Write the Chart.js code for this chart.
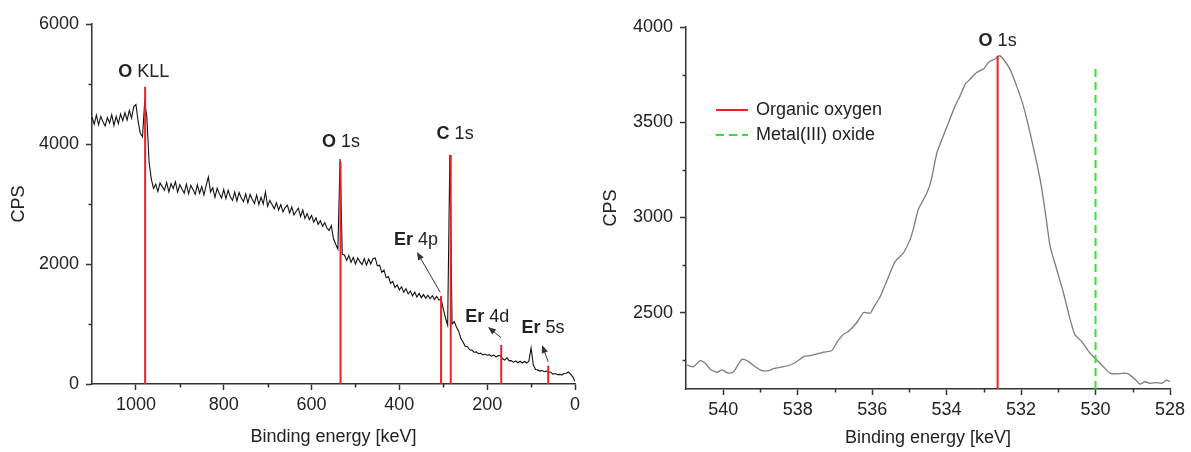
<!DOCTYPE html>
<html>
<head>
<meta charset="utf-8">
<title>XPS spectra</title>
<script src="https://cdn.jsdelivr.net/npm/chart.js@4.4.1/dist/chart.umd.min.js"></script>
<style>
  html, body { margin: 0; padding: 0; background: #fff; }
  #wrap { position: relative; width: 1191px; height: 452px; overflow: hidden; }
  #survey { position: absolute; left: 0; top: 0; }
  #detail { position: absolute; left: 590px; top: 0; }
</style>
</head>
<body>
<div id="wrap">
  <canvas id="survey" width="590" height="452"></canvas>
  <canvas id="detail" width="601" height="452"></canvas>
</div>
<script>
const FONT = '"Liberation Sans", Arial, Helvetica, sans-serif';
const INK = '#222';
const AXIS = '#333';
const RED = '#ee2027';
const GREEN = '#35e035';

// ---- survey spectrum (left panel) ----
const surveyEnergy = [
  1100, 1095, 1090, 1085, 1080, 1075, 1070, 1065, 1060, 1055, 1050, 1045, 1040, 1035, 1030, 1025, 1020, 1015, 1010, 1005,
  1000, 995, 990, 985, 980, 975, 970, 965, 960, 955, 950, 945, 940, 935, 930, 925, 920, 915, 910, 905,
  900, 895, 890, 885, 880, 875, 870, 865, 860, 855, 850, 845, 840, 835, 830, 825, 820, 815, 810, 805,
  800, 795, 790, 785, 780, 775, 770, 765, 760, 755, 750, 745, 740, 735, 730, 725, 720, 715, 710, 705,
  700, 695, 690, 685, 680, 675, 670, 665, 660, 655, 650, 645, 640, 635, 630, 625, 620, 615, 610, 605,
  600, 595, 590, 585, 580, 575, 570, 565, 560, 555, 550, 545, 540, 535, 530, 525, 520, 515, 510, 505,
  500, 495, 490, 485, 480, 475, 470, 465, 460, 455, 450, 445, 440, 435, 430, 425, 420, 415, 410, 405,
  400, 395, 390, 385, 380, 375, 370, 365, 360, 355, 350, 345, 340, 335, 330, 325, 320, 315, 310, 305,
  300, 295, 290, 285, 280, 275, 270, 265, 260, 255, 250, 245, 240, 235, 230, 225, 220, 215, 210, 205,
  200, 195, 190, 185, 180, 175, 170, 165, 160, 155, 150, 145, 140, 135, 130, 125, 120, 115, 110, 105,
  100, 95, 90, 85, 80, 75, 70, 65, 60, 55, 50, 45, 40, 35, 30, 25, 20, 15, 10, 5, 0
];
const surveyCounts = [
  4450, 4330, 4480, 4320, 4460, 4370, 4300, 4440, 4350, 4490, 4310, 4460, 4340, 4500, 4390, 4520, 4400, 4560, 4430, 4620,
  4660, 4380, 4180, 4120, 4700, 4450, 3700, 3420, 3260, 3330, 3210, 3350, 3290, 3230, 3360, 3200, 3340, 3260, 3370, 3200,
  3320, 3250, 3180, 3330, 3170, 3310, 3240, 3160, 3320, 3180, 3290, 3150, 3310, 3450, 3200, 3270, 3110, 3260, 3170, 3100,
  3240, 3090, 3230, 3120, 3060, 3200, 3050, 3190, 3100, 3040, 3170, 3020, 3160, 3080, 3010, 3150, 2990, 3110, 3000, 3200,
  2960, 3060, 2990, 2920, 3020, 2900, 2990, 2870, 2940, 2980, 2850, 2950, 2820, 2880, 2930, 2790, 2900, 2760, 2840, 2740,
  2810, 2700, 2770, 2660, 2720, 2630, 2690, 2600, 2560, 2640, 2420, 2330, 2250, 3750, 2160, 2150, 2060, 2140, 2030, 2110,
  2000, 2100, 2040, 1990, 2090, 1980, 2080, 2000, 2090, 2100, 1970, 1980, 1860, 1900, 1770, 1790, 1680, 1710, 1610, 1650,
  1570, 1620, 1530, 1590, 1500, 1550, 1470, 1530, 1450, 1510, 1440, 1490, 1430, 1480, 1420, 1470, 1410, 1460, 1400, 1420,
  1250, 1100, 980, 3820, 1000, 1040, 950, 880, 760, 700, 630, 620, 570, 565, 530, 535, 505, 515, 485, 500,
  480, 490, 460, 485, 450, 475, 470, 420, 400, 440, 385, 390, 360, 385, 355, 380, 350, 375, 350, 380,
  600, 320, 240, 235, 215, 225, 205, 215, 195, 195, 165, 175, 155, 160, 150, 175, 180, 200, 165, 120, 40
];

// peak markers (red lines) and their tags
const peakElement = ['O', 'O', 'Er', 'C', 'Er', 'Er'];
const peakLevel = ['KLL', '1s', '4p', '1s', '4d', '5s'];
const peakEnergy = [979, 534, 305, 283, 168, 61];
const peakTop = [4955, 3705, 1467, 3817, 650, 305];
const tagEnergy = [982, 533, 362, 273, 200, 73];
const tagCps = [5200, 4033, 2400, 4167, 1117, 933];

// arrows for the Er tags: tail (on the peak) -> head (towards the tag)
const arrowTailE = [307, 168, 61];
const arrowTailY = [1530, 770, 370];
const arrowHeadE = [360, 198, 75];
const arrowHeadY = [2200, 950, 650];

const surveyTicksX = [1000, 800, 600, 400, 200, 0];
const surveyTicksY = [0, 2000, 4000, 6000];
const surveyMinorX = [900, 700, 500, 300, 100];
const surveyMinorY = [1000, 3000, 5000];

// ---- O 1s detail (right panel) ----
const oxygenEnergy = [
  540.97, 540.80, 540.62, 540.48, 540.35, 540.17, 540.03, 539.86, 539.72, 539.50,
  539.32, 539.14, 538.96, 538.78, 538.65, 538.38, 538.20, 538.02, 537.84, 537.66,
  537.48, 537.31, 537.08, 536.95, 536.77, 536.64, 536.41, 536.23, 536.05, 535.97,
  535.79, 535.65, 535.52, 535.38, 535.25, 535.16, 534.98, 534.88, 534.76, 534.53,
  534.42, 534.26, 534.09, 533.95, 533.77, 533.64, 533.50, 533.37, 533.19, 533.01,
  532.88, 532.70, 532.58, 532.48, 532.30, 532.12, 531.94, 531.76, 531.58, 531.44,
  531.31, 531.22, 531.04, 530.86, 530.68, 530.55, 530.37, 530.15, 529.97, 529.79,
  529.61, 529.43, 529.25, 529.12, 528.94, 528.81, 528.67, 528.54, 528.36, 528.22,
  528.09, 528.00
];
const oxygenCounts = [
  2226, 2217, 2249, 2235, 2204, 2188, 2200, 2183, 2191, 2256,
  2244, 2217, 2196, 2196, 2207, 2217, 2226, 2244, 2270, 2275,
  2284, 2293, 2302, 2344, 2388, 2402, 2449, 2502, 2498, 2525,
  2583, 2647, 2709, 2770, 2796, 2814, 2884, 2950, 3042, 3130,
  3191, 3340, 3428, 3498, 3586, 3638, 3700, 3726, 3762, 3779,
  3814, 3832, 3849, 3832, 3779, 3691, 3586, 3446, 3288, 3147,
  2972, 2849, 2726, 2604, 2463, 2384, 2349, 2288, 2253, 2217,
  2183, 2179, 2183, 2179, 2151, 2126, 2138, 2130, 2133, 2130,
  2147, 2138
];
const componentNames = ['Organic oxygen', 'Metal(III) oxide'];
const componentEnergy = [532.63, 530.0];
const componentTop = [3849, 3780];
const detailTag = { element: 'O', level: '1s', energy: 532.63, cps: 3926 };

const detailTicksX = [540, 538, 536, 534, 532, 530, 528];
const detailTicksY = [2500, 3000, 3500, 4000];
const detailMinorX = [539, 537, 535, 533, 531, 529];
const detailMinorY = [2250, 2750, 3250, 3750];

// ---- helpers ----
function pairs(xs, ys) {
  return xs.map((x, i) => ({ x: x, y: ys[i] }));
}

function drawTag(chart, element, level, xv, yv) {
  const ctx = chart.ctx;
  const x = chart.scales.x.getPixelForValue(xv);
  const y = chart.scales.y.getPixelForValue(yv);
  ctx.save();
  ctx.textBaseline = 'middle';
  ctx.textAlign = 'left';
  ctx.fillStyle = INK;
  ctx.font = 'bold 18px ' + FONT;
  const wb = ctx.measureText(element).width;
  ctx.font = '18px ' + FONT;
  const ws = ctx.measureText(' ').width;
  const wl = ctx.measureText(level).width;
  const left = x - (wb + ws + wl) / 2;
  ctx.font = 'bold 18px ' + FONT;
  ctx.fillText(element, left, y);
  ctx.font = '18px ' + FONT;
  ctx.fillText(level, left + wb + ws, y);
  ctx.restore();
}

function drawArrow(chart, x0v, y0v, x1v, y1v) {
  const ctx = chart.ctx;
  const sx = chart.scales.x, sy = chart.scales.y;
  const x0 = sx.getPixelForValue(x0v), y0 = sy.getPixelForValue(y0v);
  const x1 = sx.getPixelForValue(x1v), y1 = sy.getPixelForValue(y1v);
  const a = Math.atan2(y1 - y0, x1 - x0);
  const c = Math.cos(a), s = Math.sin(a);
  const len = 8, half = 3.2;
  ctx.save();
  ctx.strokeStyle = AXIS;
  ctx.fillStyle = AXIS;
  ctx.lineWidth = 1;
  ctx.beginPath();
  ctx.moveTo(x0, y0);
  ctx.lineTo(x1 - c * len * 0.7, y1 - s * len * 0.7);
  ctx.stroke();
  ctx.beginPath();
  ctx.moveTo(x1, y1);
  ctx.lineTo(x1 - c * len + s * half, y1 - s * len - c * half);
  ctx.lineTo(x1 - c * len - s * half, y1 - s * len + c * half);
  ctx.closePath();
  ctx.fill();
  ctx.restore();
}

function minorTicks(xVals, yVals) {
  return {
    id: 'minorTicks',
    afterDraw(chart) {
      const ctx = chart.ctx, area = chart.chartArea;
      ctx.save();
      ctx.strokeStyle = AXIS;
      ctx.lineWidth = 1.5;
      ctx.beginPath();
      xVals.forEach(v => {
        const px = Math.round(chart.scales.x.getPixelForValue(v)) + 0.5;
        ctx.moveTo(px, area.bottom);
        ctx.lineTo(px, area.bottom + 3.5);
      });
      yVals.forEach(v => {
        const py = Math.round(chart.scales.y.getPixelForValue(v)) + 0.5;
        ctx.moveTo(area.left, py);
        ctx.lineTo(area.left - 3.5, py);
      });
      ctx.stroke();
      ctx.restore();
    }
  };
}

function axisX(min, max, tickList, fitHeight, titlePad) {
  return {
    type: 'linear',
    reverse: true,
    min: min,
    max: max,
    border: { display: true, color: AXIS, width: 1.5 },
    grid: { drawOnChartArea: false, drawTicks: true, tickLength: 6, tickColor: AXIS, tickWidth: 1.5 },
    ticks: {
      autoSkip: false, maxRotation: 0, padding: 4, color: INK,
      font: { family: FONT, size: 18 },
      callback: v => String(v)
    },
    afterBuildTicks: s => { s.ticks = tickList.map(v => ({ value: v })); },
    title: {
      display: true, text: 'Binding energy [keV]', color: INK,
      font: { family: FONT, size: 18 }, padding: { top: 0, bottom: titlePad }
    },
    afterFit: s => { s.height = fitHeight; }
  };
}

function axisY(min, max, tickList, fitWidth, titlePad) {
  return {
    type: 'linear',
    min: min,
    max: max,
    border: { display: true, color: AXIS, width: 1.5 },
    grid: { drawOnChartArea: false, drawTicks: true, tickLength: 6, tickColor: AXIS, tickWidth: 1.5 },
    ticks: {
      autoSkip: false, padding: 7, color: INK,
      font: { family: FONT, size: 18 },
      callback: v => String(v)
    },
    afterBuildTicks: s => { s.ticks = tickList.map(v => ({ value: v })); },
    title: {
      display: true, text: 'CPS', color: INK,
      font: { family: FONT, size: 18 }, padding: { top: titlePad, bottom: 0 }
    },
    afterFit: s => { s.width = fitWidth; }
  };
}

// ---- left chart: survey ----
const surveySets = [{
  data: pairs(surveyEnergy, surveyCounts),
  borderColor: '#111',
  borderWidth: 1.1,
  pointRadius: 0,
  tension: 0,
  order: 2
}];
peakEnergy.forEach((e, i) => {
  surveySets.push({
    data: [{ x: e, y: 0 }, { x: e, y: peakTop[i] }],
    borderColor: RED,
    borderWidth: 2,
    pointRadius: 0,
    order: 1
  });
});

new Chart(document.getElementById('survey'), {
  type: 'line',
  data: { datasets: surveySets },
  options: {
    responsive: false,
    animation: false,
    devicePixelRatio: 1,
    layout: { padding: { top: 24, right: 15, bottom: 0, left: 0 } },
    plugins: { legend: { display: false }, tooltip: { enabled: false } },
    scales: {
      x: axisX(0, 1100, surveyTicksX, 68, 4),
      y: axisY(0, 6000, surveyTicksY, 92, 8)
    }
  },
  plugins: [
    minorTicks(surveyMinorX, surveyMinorY),
    {
      id: 'peakTags',
      afterDraw(chart) {
        peakElement.forEach((el, i) => drawTag(chart, el, peakLevel[i], tagEnergy[i], tagCps[i]));
        arrowTailE.forEach((e, i) => drawArrow(chart, e, arrowTailY[i], arrowHeadE[i], arrowHeadY[i]));
      }
    }
  ]
});

// ---- right chart: O 1s detail ----
const detailSets = [{
  data: pairs(oxygenEnergy, oxygenCounts),
  borderColor: '#7c7c7c',
  borderWidth: 1.3,
  pointRadius: 0,
  tension: 0.2,
  order: 2
}, {
  label: componentNames[0],
  data: [{ x: componentEnergy[0], y: 2100 }, { x: componentEnergy[0], y: componentTop[0] }],
  borderColor: RED,
  borderWidth: 2,
  pointRadius: 0,
  order: 1
}, {
  label: componentNames[1],
  data: [{ x: componentEnergy[1], y: 2100 }, { x: componentEnergy[1], y: componentTop[1] }],
  borderColor: GREEN,
  borderWidth: 2,
  borderDash: [8, 5],
  pointRadius: 0,
  order: 1
}];

new Chart(document.getElementById('detail'), {
  type: 'line',
  data: { datasets: detailSets },
  options: {
    responsive: false,
    animation: false,
    devicePixelRatio: 1,
    layout: { padding: { top: 27, right: 21, bottom: 0, left: 0 } },
    plugins: { legend: { display: false }, tooltip: { enabled: false } },
    scales: {
      x: axisX(528, 541, detailTicksX, 63, 3),
      y: axisY(2100, 4000, detailTicksY, 96, 10)
    }
  },
  plugins: [
    minorTicks(detailMinorX, detailMinorY),
    {
      id: 'detailTags',
      afterDraw(chart) {
        drawTag(chart, detailTag.element, detailTag.level, detailTag.energy, detailTag.cps);
        // legend box
        const ctx = chart.ctx, area = chart.chartArea;
        ctx.save();
        ctx.font = '18px ' + FONT;
        ctx.textBaseline = 'middle';
        ctx.fillStyle = INK;
        [1, 2].forEach((k, i) => {
          const ds = chart.data.datasets[k];
          const y = area.top + 83 + i * 25;
          ctx.strokeStyle = ds.borderColor;
          ctx.lineWidth = 2;
          ctx.setLineDash(ds.borderDash || []);
          ctx.beginPath();
          ctx.moveTo(area.left + 30, y);
          ctx.lineTo(area.left + 62, y);
          ctx.stroke();
          ctx.setLineDash([]);
          ctx.fillText(ds.label, area.left + 70, y);
        });
        ctx.restore();
      }
    }
  ]
});
</script>
</body>
</html>
